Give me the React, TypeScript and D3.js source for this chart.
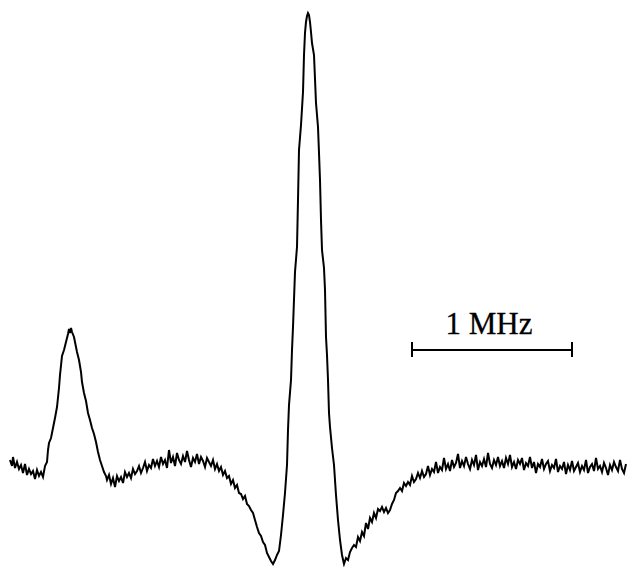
import * as d3 from 'd3'
import { useEffect, useRef } from 'react'

// [channel, signal] readings, split into regions
const leftBaseline: [number, number][] = [
  [10, 110], [12, 104], [13, 113], [15, 102], [17, 108], [19, 101], [21, 105], [23, 97], [25, 106], [27, 95],
  [29, 101], [31, 96], [33, 99], [35, 91], [37, 100], [39, 94], [41, 98], [43, 93], [45, 104], [47, 108],
];

const sidePeak: [number, number][] = [
  [48, 120], [49, 127], [51, 132], [53, 142], [55, 152], [57, 163], [59, 182], [60, 195], [62, 214], [64, 220],
  [66, 228], [68, 236], [69, 241], [70, 237], [71, 242], [72, 238], [74, 233], [76, 223], [77, 218], [79, 210],
  [81, 198], [82, 188], [84, 177], [86, 169], [88, 157], [90, 150], [92, 142], [94, 136], [96, 128], [98, 118],
  [100, 110], [102, 104], [104, 98], [106, 94],
];

const shoulder: [number, number][] = [
  [107, 90], [109, 95], [111, 86], [113, 92], [115, 83], [117, 94], [119, 89], [121, 93], [123, 87], [125, 98],
  [127, 93], [129, 97], [131, 92], [133, 101], [135, 96], [137, 99], [139, 104], [141, 97], [143, 102], [145, 108],
  [147, 99], [149, 105], [151, 102], [153, 111], [155, 104], [157, 109], [159, 103], [161, 113], [163, 106], [165, 110],
  [167, 102], [169, 120], [171, 107], [173, 113], [175, 104], [177, 117], [179, 110], [181, 106], [183, 114], [185, 108],
  [187, 119], [189, 110], [191, 103], [193, 112], [195, 108], [197, 116], [199, 106], [201, 113], [203, 109], [205, 103],
  [207, 112], [209, 108], [211, 104], [213, 110], [215, 101], [217, 106], [219, 99], [221, 103], [223, 95], [225, 99],
  [227, 92], [229, 94], [231, 86], [233, 90], [235, 82], [237, 85], [239, 77], [241, 76], [243, 71], [245, 74],
  [247, 66], [249, 64], [251, 60], [253, 57], [255, 50], [257, 43], [259, 37], [261, 34], [263, 28], [265, 25],
  [267, 17], [269, 13], [271, 9], [273, 6], [275, 10], [277, 15], [279, 19],
];

const mainPeak: [number, number][] = [
  [281, 35], [283, 55], [285, 77], [287, 105], [288, 140], [289, 165], [291, 190], [292, 220], [293, 243], [295, 298],
  [297, 323], [298, 370], [299, 420], [301, 445], [303, 478], [304, 515], [305, 537], [306, 548], [307, 554], [308, 557],
  [309, 555], [310, 548], [311, 538], [312, 527], [314, 515], [316, 467], [318, 443], [319, 417], [320, 390], [321, 350],
  [322, 320], [324, 302], [325, 280], [326, 233], [327, 215], [328, 190], [329, 157], [330, 143], [332, 122], [334, 105],
  [336, 75], [338, 50], [340, 30], [342, 15], [344, 6],
];

const rightBaseline: [number, number][] = [
  [346, 12], [348, 10], [350, 18], [352, 22], [354, 25], [356, 23], [358, 33], [360, 29], [362, 38], [364, 34],
  [366, 47], [368, 41], [370, 52], [372, 48], [374, 57], [376, 52], [378, 61], [380, 59], [382, 63], [384, 58],
  [386, 62], [388, 57], [390, 60], [392, 66], [394, 70], [396, 77], [398, 79], [400, 82], [402, 79], [404, 87],
  [406, 84], [408, 88], [410, 85], [412, 94], [414, 88], [416, 91], [418, 97], [420, 92], [422, 99], [424, 93],
  [426, 96], [428, 104], [430, 95], [432, 101], [434, 98], [436, 108], [438, 97], [440, 103], [442, 100], [444, 112],
  [446, 101], [448, 106], [450, 99], [452, 110], [454, 103], [456, 107], [458, 116], [460, 102], [462, 109], [464, 104],
  [466, 113], [468, 106], [470, 101], [472, 110], [474, 105], [476, 115], [478, 100], [480, 108], [482, 104], [484, 111],
  [486, 103], [488, 117], [490, 106], [492, 102], [494, 110], [496, 105], [498, 113], [500, 104], [502, 109], [504, 102],
  [506, 112], [508, 106], [510, 115], [512, 103], [514, 108], [516, 101], [518, 110], [520, 106], [522, 112], [524, 100],
  [526, 107], [528, 104], [530, 113], [532, 102], [534, 108], [536, 97], [538, 106], [540, 103], [542, 111], [544, 101],
  [546, 106], [548, 109], [550, 99], [552, 105], [554, 102], [556, 111], [558, 98], [560, 104], [562, 101], [564, 108],
  [566, 96], [568, 105], [570, 100], [572, 109], [574, 99], [576, 103], [578, 107], [580, 98], [582, 104], [584, 100],
  [586, 110], [588, 97], [590, 103], [592, 106], [594, 99], [596, 112], [598, 101], [600, 104], [602, 98], [604, 107],
  [606, 102], [608, 95], [610, 105], [612, 100], [614, 108], [616, 103], [618, 99], [620, 110], [622, 101], [624, 97],
  [626, 106],
];

// scale bar: 1 MHz spans this many channels
const scaleBarLabel = "1 MHz";
const scaleBarStart = 412;
const channelsPerMHz = 160;
const scaleBarSignal = 220;

const width = 627;
const height = 567;

const drawTrace = (el: SVGSVGElement) => {
  const data = [...leftBaseline, ...sidePeak, ...shoulder, ...mainPeak, ...rightBaseline];

  const x = d3.scaleLinear().domain([0, 627]).range([0, width]);
  const y = d3.scaleLinear().domain([0, 557]).range([570, 13]);

  const svg = d3.select(el);

  const line = d3.line<[number, number]>()
    .x(d => x(d[0]))
    .y(d => y(d[1]));

  svg.append('path')
    .datum(data)
    .attr('fill', 'none')
    .attr('stroke', '#000')
    .attr('stroke-width', 2)
    .attr('stroke-linejoin', 'miter')
    .attr('d', line);

  const x0 = x(scaleBarStart);
  const x1 = x(scaleBarStart + channelsPerMHz);
  const yb = y(scaleBarSignal);

  const bar = svg.append('g')
    .attr('stroke', '#000')
    .attr('stroke-width', 2)
    .attr('shape-rendering', 'crispEdges');
  bar.append('line').attr('x1', x0).attr('x2', x1).attr('y1', yb).attr('y2', yb);
  bar.append('line').attr('x1', x0).attr('x2', x0).attr('y1', yb - 8).attr('y2', yb + 7);
  bar.append('line').attr('x1', x1).attr('x2', x1).attr('y1', yb - 8).attr('y2', yb + 7);

  svg.append('text')
    .attr('x', (x0 + x1) / 2 - 3)
    .attr('y', yb - 16)
    .attr('text-anchor', 'middle')
    .attr('font-family', '"Liberation Serif", "Times New Roman", serif')
    .attr('font-size', 31)
    .attr('fill', '#000')
    .attr('stroke', '#000')
    .attr('stroke-width', 0.3)
    .text(scaleBarLabel);
};

const App = () => {
  const ref = useRef<SVGSVGElement>(null);

  useEffect(() => {
    if (!ref.current) return;
    drawTrace(ref.current);
    return () => {
      d3.select(ref.current).selectAll('*').remove();
    };
  }, []);

  return (
    <svg
      ref={ref}
      width={width}
      height={height}
      style={{ position: 'absolute', left: 0, top: 0, background: '#fff' }}
    />
  );
};

export default App;
